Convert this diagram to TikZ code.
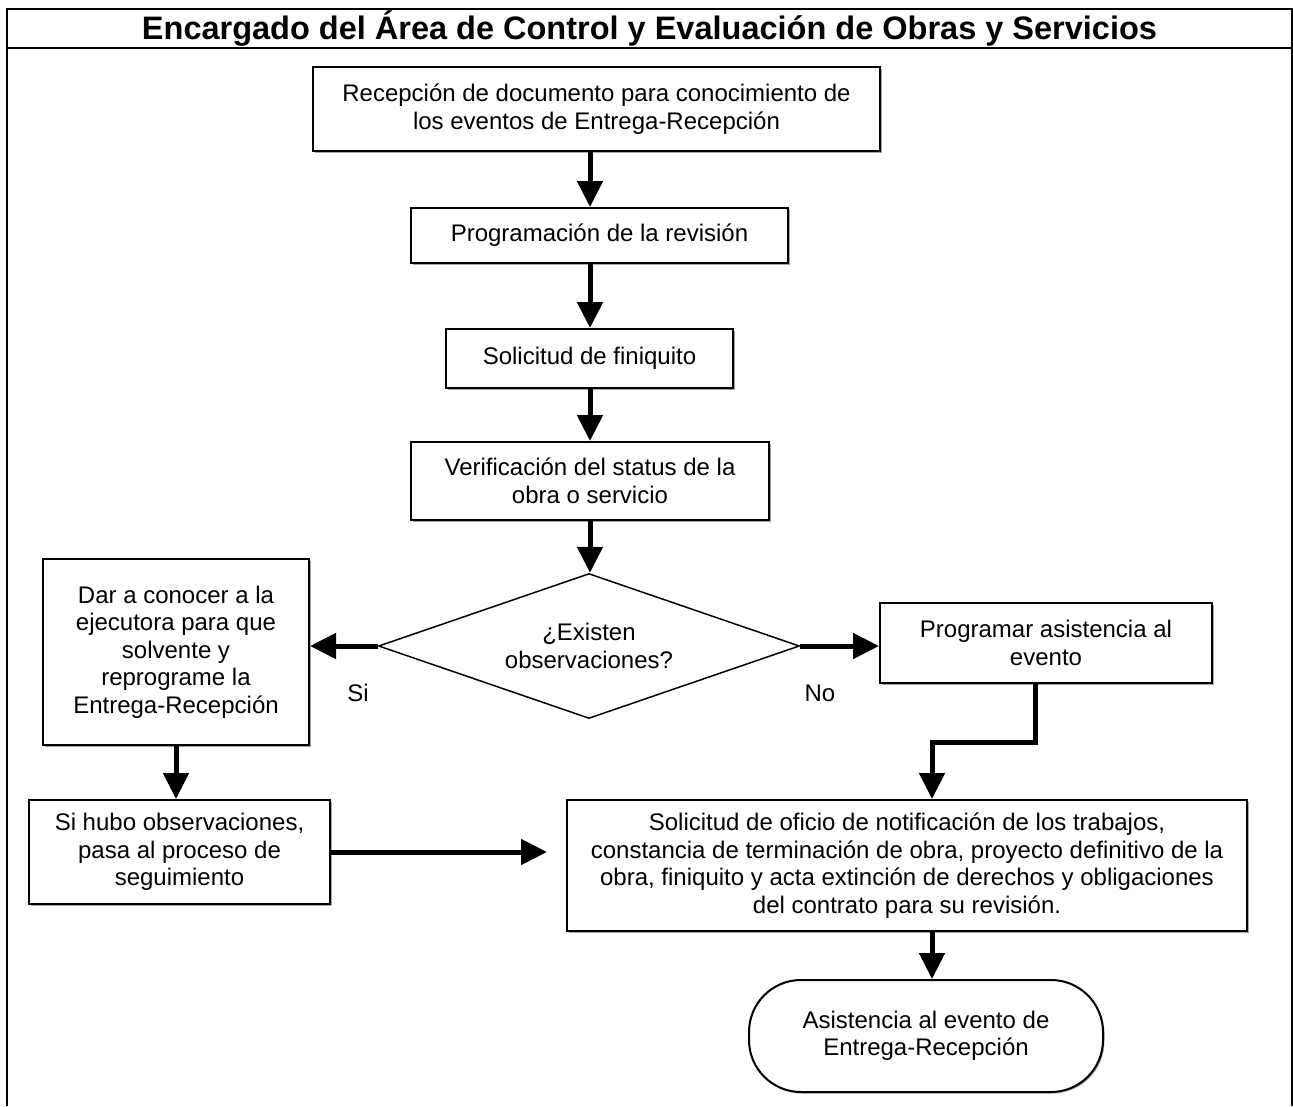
\documentclass[tikz,border=0pt]{standalone}
\usepackage{fontspec}
\setmainfont{Liberation Sans}
\usetikzlibrary{arrows.meta,shapes.geometric,shadows}
\newcommand\bodyfont{\fontsize{24}{27.5}\selectfont}
\newcommand\titlefont{\fontsize{32.5}{36}\selectfont\bfseries}
\begin{document}
\begin{tikzpicture}[x=1pt,y=-1pt,
  box/.style={draw, line width=2pt, rectangle, fill=white, align=center, inner sep=0pt,
    font=\bodyfont, drop shadow={shadow xshift=1.5pt, shadow yshift=-1.5pt, fill=black!35, opacity=1}},
  arr/.style={line width=5pt, line join=miter, -{Triangle[width=25pt,length=26pt]}},
  lbl/.style={font=\bodyfont, inner sep=0pt}]
\useasboundingbox (0,0) rectangle (1293,1106);
% frame
\draw[line width=2.5pt] (7,1106) -- (7,9) -- (1292,9) -- (1292,1106);
\draw[line width=2.5pt] (7,48) -- (1292,48);
\node[font=\titlefont, inner sep=0pt] (title) at (649.5,29) {Encargado del Área de Control y Evaluación de Obras y Servicios};
% nodes
\node[box, minimum width=567pt, minimum height=84pt] (b1) at (596.5,109)
  {Recepción de documento para conocimiento de\\los eventos de Entrega-Recepción};
\node[box, minimum width=377pt, minimum height=55pt] (b2) at (599.5,235.5)
  {Programación de la revisión};
\node[box, minimum width=287pt, minimum height=59pt] (b3) at (589.5,358.5)
  {Solicitud de finiquito};
\node[box, minimum width=358pt, minimum height=78pt] (b4) at (590,481)
  {Verificación del status de la\\obra o servicio};
\node[diamond, draw, line width=1.5pt, aspect=2.9, minimum width=421pt, minimum height=145pt,
  inner sep=0pt, align=center, font=\bodyfont] (dia) at (589,646) {¿Existen\\observaciones?};
\node[box, minimum width=266pt, minimum height=186pt] (dar) at (176,652)
  {Dar a conocer a la\\ejecutora para que\\solvente y\\reprograme la\\Entrega-Recepción};
\node[box, minimum width=332pt, minimum height=80pt] (prog) at (1046,643)
  {Programar asistencia al\\evento};
\node[box, minimum width=301pt, minimum height=104pt] (sih) at (179.5,852)
  {Si hubo observaciones,\\pasa al proceso de\\seguimiento};
\node[box, minimum width=680pt, minimum height=131pt] (big) at (907,865.5)
  {Solicitud de oficio de notificación de los trabajos,\\constancia de terminación de obra, proyecto definitivo de la\\obra, finiquito y acta extinción de derechos y obligaciones\\del contrato para su revisión.};
\node[box, rounded corners=52pt, minimum width=354pt, minimum height=112pt] (term) at (926,1036)
  {Asistencia al evento de\\Entrega-Recepción};
\node[lbl] (si) at (358,693) {Si};
\node[lbl] (no) at (820,693) {No};
% connectors
\coordinate (col) at (590,0);
\draw[arr] (b1.south -| col) -- (b2.north -| col);
\draw[arr] (b2.south -| col) -- (b3.north -| col);
\draw[arr] (b3.south -| col) -- (b4.north -| col);
\draw[arr] (b4.south -| col) -- (dia.north -| col);
\draw[arr] (dia.west) -- (dia.west -| dar.east);
\draw[arr] (dia.east) -- (dia.east -| prog.west);
\coordinate (e1) at ([xshift=-11pt]prog.south);
\coordinate (e2) at ([xshift=25pt]big.north);
\draw[arr] (e1) -- (1035,742) -| (e2);
\draw[arr] (dar.south) -- (dar.south |- sih.north);
\draw[arr, shorten >=19pt] (sih.east) -- (sih.east -| big.west);
\coordinate (e3) at ([xshift=25pt]big.south);
\draw[arr] (e3) -- (e3 |- term.north);
\end{tikzpicture}
\end{document}
